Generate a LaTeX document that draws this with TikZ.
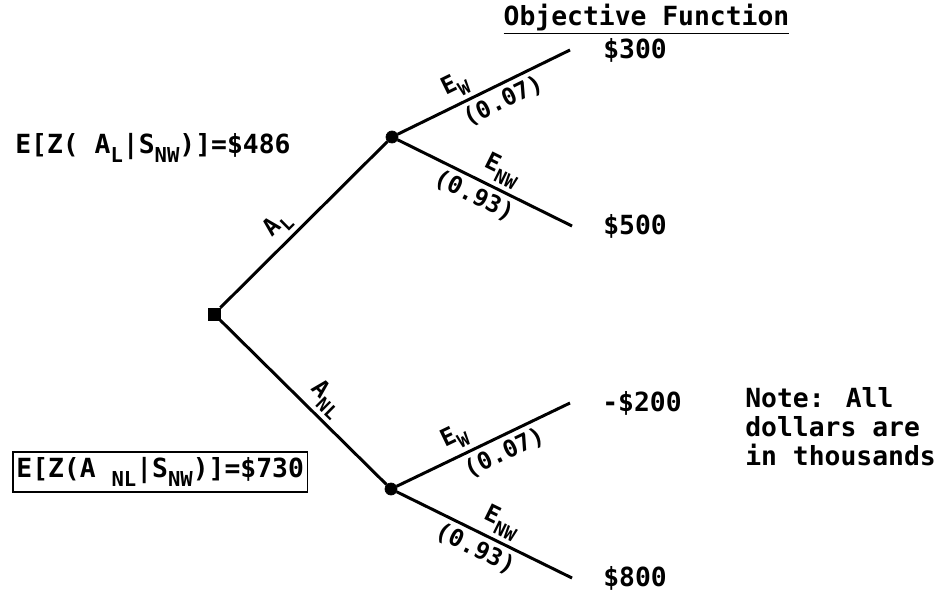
\documentclass[tikz,border=0pt]{standalone}
\usepackage{fontspec}
\setmainfont{DejaVu Sans Mono}
\usetikzlibrary{positioning}
\newcommand\lowsub[1]{\raisebox{-0.6ex}{\scalebox{0.78}{#1}}}
\tikzset{
  chance/.style={
    inner sep = 0pt,
    minimum size = 0.24cm,
    shape = circle,
    draw,
    fill
  },
  decision/.style={
    inner sep = 0pt,
    minimum size = 0.24cm,
    shape = rectangle,
    draw,
    fill
  },
  branch/.style={
    line width=1.7pt
  },
  prob/.style={
    sloped,
    font = \fontsize{13.5}{13.5}\selectfont\bfseries,
    inner sep=2.5pt
  },
  payoff/.style={
    anchor = west,
    font = \fontsize{15}{15}\selectfont\bfseries,
    inner sep=0pt
  },
  every picture/.style = {
    font=\fontsize{15}{16.5}\selectfont\bfseries
  }
}

\begin{document}
\begin{tikzpicture}
        \useasboundingbox (0,0) rectangle (18.88,11.94);

        % decision and chance nodes
        \node[decision] (root) at (4.28,5.66) {};
        \node[chance] (nL) at (7.84,9.20) {};
        \node[chance] (nNL) at (7.82,2.16) {};

        % free ends of the outcome branches
        \coordinate (e1) at (11.40,10.94);
        \coordinate (e2) at (11.44,7.42);
        \coordinate (e3) at (11.40,3.88);
        \coordinate (e4) at (11.44,0.38);

        \draw[branch] (root) -- node[prob, above, pos=0.42] {A\lowsub{L}} (nL);
        \draw[branch] (root) -- node[prob, above, pos=0.56] {A\lowsub{NL}} (nNL);

        \draw[branch] (nL) -- node[prob, above, pos=0.38] {E\lowsub{W}}
                              node[prob, below, pos=0.57] {(0.07)} (e1);
        \draw[branch] (nL) -- node[prob, above, pos=0.55] {E\lowsub{NW}}
                              node[prob, below, pos=0.48] {(0.93)} (e2);
        \draw[branch] (nNL) -- node[prob, above, pos=0.38] {E\lowsub{W}}
                               node[prob, below, pos=0.58] {(0.07)} (e3);
        \draw[branch] (nNL) -- node[prob, above, pos=0.55] {E\lowsub{NW}}
                               node[prob, below, pos=0.49] {(0.93)} (e4);

        % outcome values
        \node[payoff, right=0.66cm of e1] (v300) {\$300};
        \node[payoff, right=0.62cm of e2] (v500) {\$500};
        \node[payoff, right=0.64cm of e3] (v200) {-\$200};
        \node[payoff, right=0.62cm of e4] (v800) {\$800};

        \node (head) at (12.93,11.56) {\underline{Objective Function}};

        % expected values
        \node[anchor=west, inner sep=0pt] (evL) at (0.30,8.98)
            {E[Z( A\lowsub{L}|S\lowsub{NW})]=\$486};
        \node[anchor=west, draw, line width=1pt, inner xsep=2pt, inner ysep=3pt] (evNL) at (0.24,2.50)
            {E[Z(A \lowsub{NL}|S\lowsub{NW})]=\$730};

        \node[anchor=west, align=left, inner sep=0pt] (note) at (14.90,3.40)
            {Note: All\\dollars are\\in thousands};
\end{tikzpicture}
\end{document}
